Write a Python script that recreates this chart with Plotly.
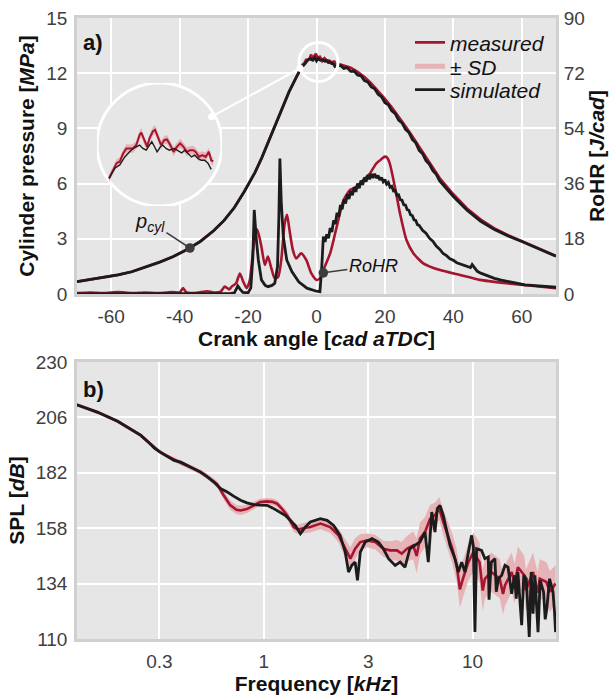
import plotly.graph_objects as go

# ---------------- panel a) data ----------------
theta_p_meas = [-70, -66, -62, -58, -54, -50, -46, -42, -38, -34, -30, -27, -24, -21, -18, -16, -14, -12, -10, -8, -6,
                -4.8, -4.37, -4.04, -3.71, -3.39, -3.06, -2.73, -2.40, -2.07, -1.74, -1.57, -1.24, -0.98, -0.75, -0.42,
                -0.19, 0.08, 0.41, 0.74, 1.0, 1.33, 1.66, 1.99, 2.32, 2.65, 2.98, 3.31, 3.64, 3.87, 4.2, 4.53, 4.86,
                5.19, 5.42, 5.62,
                6.5, 8, 10, 12, 14, 16, 18, 20, 22, 24, 26, 28, 30, 33, 36, 40, 44, 48, 52, 56, 60, 65, 70]
p_meas = [0.67, 0.78, 0.90, 1.04, 1.21, 1.45, 1.72, 2.02, 2.40, 2.85, 3.45, 4.0, 4.7, 5.6, 6.6, 7.4, 8.3, 9.3, 10.2, 11.0, 11.75,
          12.2, 12.35, 12.47, 12.5, 12.64, 12.73, 12.73, 12.73, 12.79, 12.97, 13.01, 12.85, 12.76, 12.91, 13.03,
          13.06, 12.94, 12.79, 12.88, 12.89, 12.79, 12.67, 12.76, 12.82, 12.76, 12.67, 12.7, 12.7, 12.67, 12.58, 12.61, 12.58,
          12.67, 12.52, 12.5,
          12.5, 12.42, 12.3, 12.08, 11.8, 11.45, 11.05, 10.6, 10.15, 9.65, 9.12, 8.58, 8.0, 7.15, 6.3, 5.42, 4.65, 4.05, 3.57, 3.2, 2.88, 2.47, 2.07]
p_meas_sd = [0.04, 0.04, 0.04, 0.04, 0.04, 0.04, 0.05, 0.05, 0.05, 0.05, 0.05, 0.06, 0.06, 0.06, 0.06, 0.06, 0.07, 0.07, 0.07, 0.07, 0.07,
             0.07, 0.08, 0.07, 0.08, 0.07, 0.08, 0.07, 0.08, 0.07, 0.08, 0.08, 0.07, 0.08, 0.07, 0.08,
             0.08, 0.07, 0.08, 0.07, 0.08, 0.07, 0.08, 0.07, 0.08, 0.07, 0.08, 0.07, 0.08, 0.07, 0.08, 0.07, 0.08,
             0.07, 0.08, 0.07,
             0.08, 0.08, 0.07, 0.07, 0.07, 0.07, 0.07, 0.07, 0.07, 0.07, 0.07, 0.06, 0.06, 0.06, 0.06, 0.05, 0.05, 0.05, 0.05, 0.05, 0.04, 0.04, 0.04]

theta_p_sim = [-70, -66, -62, -58, -54, -50, -46, -42, -38, -34, -30, -27, -24, -21, -18, -16, -14, -12, -10, -8, -6,
               -4.8, -4.21, -3.71, -3.22, -2.73, -2.40, -2.07, -1.74, -1.41, -1.08, -0.75, -0.52, -0.25, 0.01, 0.34,
               0.57, 0.90, 1.24, 1.73, 2.06, 2.46, 2.79, 3.12, 3.45, 3.78, 4.11, 4.44, 4.77, 5.10, 5.42,
               6.5, 7, 8, 9, 10, 11, 12, 13, 14, 15, 16, 17, 18, 19, 20, 21, 22, 23, 24, 25, 26, 27, 28, 29, 30,
               31, 32, 33, 34, 35, 36, 40, 44, 48, 52, 56, 60, 65, 70]
p_sim = [0.67, 0.78, 0.90, 1.04, 1.21, 1.45, 1.72, 2.02, 2.40, 2.85, 3.45, 4.0, 4.7, 5.6, 6.6, 7.4, 8.3, 9.3, 10.2, 11.0, 11.75,
         12.2, 12.38, 12.44, 12.58, 12.67, 12.73, 12.76, 12.79, 12.73, 12.70, 12.79, 12.85, 12.76, 12.67, 12.76,
         12.79, 12.73, 12.70, 12.73, 12.70, 12.65, 12.70, 12.64, 12.58, 12.61, 12.55, 12.52, 12.52, 12.47, 12.36,
         12.4, 12.42, 12.26, 12.3, 12.1, 12.12, 11.9, 11.86, 11.6, 11.52, 11.25, 11.15, 10.85, 10.72, 10.4, 10.28,
         9.95, 9.8, 9.45, 9.3, 8.95, 8.78, 8.4, 8.22, 7.8,
         7.63, 7.25, 7.05, 6.7, 6.5, 6.15, 5.3, 4.55, 3.95, 3.5, 3.15, 2.85, 2.45, 2.05]

theta_r_meas = [-70, -66, -62, -58, -54, -50, -46, -42, -40, -39, -38, -35, -32, -30, -28, -26.8, -25.5, -24.8, -23.5,
                -22.4, -21.4, -20.4, -19.5, -19.0, -18.0, -17.3, -16.1, -15.1, -14.2, -13.2, -12.2, -11.2, -10.3, -9.3,
                -8.6, -7.9, -6.9, -5.9, -4.5, -3.0, -1.5, 0.0, 1.0, 2.0, 4.0, 5.9, 7.9, 9.8, 11.7, 13.7, 15.6, 17.5,
                19.0, 20.0, 20.6, 21.4, 22.9, 24.4, 26.3, 28.3, 31.2, 36.1, 42.0, 47.8, 55.6, 63.5, 70]
rohr_meas = [0.3, 0.5, 0.3, 0.6, 0.3, 0.5, 0.3, 0.6, 0.5, 1.9, 0.5, 0.4, 0.9, 0.5, 0.8, 2.4, 1.5, 2.4, 3.5,
             6.7, 4.0, 1.9, 4.5, 8.9, 19.2, 21.0, 15.4, 9.5, 12.2, 8.4, 5.1, 5.6, 11.1, 23.0,
             25.8, 20.9, 14.3, 11.6, 13.3, 11.1, 6.7, 4.6, 5.1, 7.8, 13.3, 21.9, 30.6, 33.9, 35.0, 37.2, 39.3, 42.6,
             44.0, 44.8, 44.5, 42.6, 35.0, 26.3, 17.6, 13.3, 10.0, 7.8, 6.2, 4.6, 3.5, 2.6, 1.9]

theta_r_sim = [-70, -40, -25, -24, -23, -22.3, -21.5, -20, -19.2, -18.6, -18.2, -17.6, -17, -16.1, -15, -14.2, -13, -12.2,
               -11.4, -11, -10.7, -10.3, -9.7, -8.7, -7.2, -5.2, -2.8, 0, 1.0, 1.5,
               2.0, 2.5, 3.0, 3.5, 4.0, 4.5, 5.0, 5.5, 6.0, 6.5, 7.0, 7.5, 8.0, 8.5, 9.0, 9.5, 10.0, 10.5, 11.0, 11.5,
               12.0, 12.5, 13.0, 13.5, 14.0, 14.5, 15.0, 15.5, 16.0, 16.5, 17.0, 17.5, 18.0, 18.5, 19.0, 19.5, 20.0,
               20.5, 21.0, 21.5, 22.0, 22.5, 23.0, 23.5, 24.0, 24.5, 25.0, 25.5, 26.0, 26.5, 27.0, 27.5, 28.0, 28.5,
               29.0, 29.5, 30.0, 31, 32, 33, 34, 35, 36, 37, 38, 39, 40, 41, 42, 43, 44, 45, 45.5, 46, 47, 48, 50, 52,
               54, 56, 58, 61, 64, 67, 70]
rohr_sim = [0.0, 0.0, 0.2, 0.4, 2.6, 1.5, 0.5, 0.4, 2.0, 12.0, 27.4, 18.0, 11.1, 4.6, 2.8, 2.4, 2.8, 3.5,
            8.9, 25.0, 44.2, 30.0, 18.7, 11.1, 7.3, 4.0, 1.9, 0.9, 0.75, 8.0,
            18.7, 17.0, 19.5, 18.2, 21.5, 20.2, 24.0, 22.8, 26.5, 25.2, 29.0, 27.6, 30.8, 29.5, 32.5, 31.0, 33.6, 32.2, 34.8, 33.3,
            36.0, 34.5, 37.0, 35.6, 38.0, 36.6, 38.8, 37.4, 39.2, 37.8, 39.2, 37.8, 38.6, 37.2, 38.0, 36.6, 37.3,
            35.8, 36.4, 34.8, 35.1, 33.6, 33.7, 32.2, 32.3, 30.7, 30.6, 29.1, 29.0, 27.5, 27.3, 25.8, 25.6, 24.2,
            24.0, 22.6, 22.4, 20.8, 19.8, 18.2, 17.2, 15.6, 14.6, 13.2, 12.5, 11.5, 11.0, 10.2, 9.8, 9.2, 8.9, 8.6, 9.6, 8.8, 7.4, 6.8, 5.9, 5.1,
            4.5, 4.0, 3.5, 3.0, 2.7, 2.4, 2.2]

# ---------------- panel b) data ----------------
freq_meas = [0.127, 0.16, 0.1995, 0.2576, 0.285, 0.315, 0.34, 0.3715, 0.40, 0.4305, 0.46, 0.498, 0.54, 0.577,
             0.598, 0.64, 0.69, 0.74, 0.774, 0.83, 0.896, 0.96, 1.037, 1.1, 1.159, 1.22, 1.293, 1.39, 1.45, 1.497,
             1.58, 1.67, 1.87, 2.08, 2.28, 2.456, 2.6, 2.74, 2.9, 3.12, 3.42, 3.74, 4.03, 4.34, 4.58, 4.85, 5.2,
             5.4, 5.6, 5.92, 6.26, 6.61, 6.93, 7.24, 7.52, 8.0, 8.4, 8.7, 9.0, 9.55, 10.1, 10.8, 11.2, 11.46, 12.3,
             13.5, 14.0, 14.3, 15.4, 15.9, 16.5, 17.7, 18.0, 19.5, 20.5, 21.0, 22.6, 23.5, 25.0]
spl_meas = [211.5, 208.3, 204.3, 198.2, 194.7, 191.3, 189.5, 187.6, 186.3, 185.0, 183.8, 182.3, 180.2, 178.0,
            177.0, 172.5, 168.0, 166.0, 165.7, 166.3, 167.9, 169.3, 169.6, 169.4, 168.6, 166.5, 163.6, 158.5, 157.5, 157.6,
            158.2, 158.5, 160.0, 158.5, 154.9, 149.1, 144.8, 149.1, 152.0, 152.7, 152.0, 149.1, 148.4, 148.4, 147.0, 149.1, 150.6,
            146.0, 153.5, 156.3, 162.1, 163.6, 166.5, 160.7, 156.3, 149.1, 141.9, 131.5, 136.1, 143.3, 147.6, 143.3, 131.0, 136.1, 139.0,
            136.1, 129.5, 133.2, 139.0, 134.0, 141.1, 137.6, 131.0, 139.0, 130.0, 136.1, 134.7, 130.5, 134.0]
spl_meas_sd = [0.8, 0.8, 0.8, 0.8, 0.9, 0.9, 0.9, 1.0, 1.0, 1.0, 1.0, 1.1, 1.2, 1.3,
               1.5, 1.8, 2.0, 2.0, 2.0, 1.8, 1.6, 1.5, 1.5, 1.5, 1.5, 1.6, 1.8, 2.0, 2.0, 2.2,
               2.3, 2.4, 2.5, 2.6, 3.0, 4.0, 5.0, 4.5, 3.5, 3.0, 3.2, 3.5, 4.0, 4.5, 5.0, 5.5, 6.0,
               7.5, 7.0, 6.5, 6.0, 5.5, 5.0, 5.5, 6.0, 6.5, 7.0, 8.0, 8.0, 8.0, 8.5, 8.5, 9.0, 8.5, 8.5,
               8.5, 9.0, 9.0, 8.5, 8.5, 9.0, 8.5, 9.0, 8.5, 9.0, 8.5, 8.5, 9.0, 8.0]

freq_sim = [0.127, 0.16, 0.1995, 0.2576, 0.285, 0.30, 0.315, 0.34, 0.3715, 0.40, 0.4305, 0.46, 0.498, 0.54, 0.577,
            0.62, 0.668, 0.72, 0.774, 0.83, 0.896, 0.96, 1.037, 1.1, 1.2, 1.27, 1.34, 1.42, 1.497, 1.58, 1.67, 1.866,
            2.01, 2.16, 2.32, 2.456, 2.547, 2.64, 2.74, 2.81, 2.9, 3.06, 3.3, 3.54, 3.74, 3.96, 4.26, 4.5, 4.75, 5.01,
            5.3, 5.6, 5.92, 6.14, 6.38, 6.61, 6.78, 6.98, 7.24, 7.52, 7.8, 8.24, 8.55, 8.87, 9.2, 9.55, 9.9, 10.1,
            10.27, 10.46, 11.05, 11.46, 11.9, 12.0, 12.3, 12.8, 13.0, 13.3, 13.8, 14.3, 14.8, 15.4, 15.9, 16.2, 16.5,
            17.2, 17.6, 18.1, 18.7, 19.1, 19.5, 19.9, 20.6, 21.1, 21.9, 22.3, 22.7, 23.4, 24.3, 24.7, 25.0]
spl_sim = [211.5, 208.2, 204.3, 198.2, 194.6, 192.6, 191.3, 189.5, 187.4, 186.6, 185.2, 184.0, 182.3, 180.0, 178.0,
           175.2, 173.7, 171.8, 170.1, 169.0, 168.2, 168.0, 167.9, 166.8, 165.0, 163.5, 161.4, 159.0, 155.6, 158.5, 160.7, 162.1,
           161.4, 159.2, 154.9, 147.6, 139.0, 141.9, 143.3, 135.4, 147.6, 152.0, 153.5, 152.0, 149.1, 144.8, 141.9, 143.3, 141.1, 149.1,
           150.6, 152.0, 156.3, 143.3, 165.0, 156.3, 166.5, 167.9, 163.6, 156.3, 150.6, 144.8, 139.0, 143.3, 139.0, 147.6, 154.9, 150.0,
           113.0, 149.1, 148.4, 144.8, 145.5, 127.0, 143.3, 144.8, 130.5, 136.1, 137.6, 141.9, 141.1, 129.6, 137.6, 127.5, 139.0,
           116.0, 137.6, 136.1, 110.9, 139.0, 121.0, 137.6, 113.0, 135.4, 130.4, 118.5, 123.1, 136.1, 130.4, 122.0, 113.0]

# ---------------- axes / tick definitions ----------------
theta_range = [-70, 70]
theta_ticks = [-60, -40, -20, 0, 20, 40, 60]
theta_ticktext = ["-60", "-40", "-20", "0", "20", "40", "60"]
p_range = [0, 15]
p_ticks = [0, 3, 6, 9, 12, 15]
rohr_range = [0, 90]
rohr_ticks = [0, 18, 36, 54, 72, 90]
f_range_log = [-0.895, 1.40]
f_tickvals = [10 ** -0.5, 1, 10 ** 0.5, 10]
f_ticktext = ["0.3", "1", "3", "10"]
spl_range = [110, 230]
spl_ticks = [110, 134, 158, 182, 206, 230]
inset_theta = [-6.0, 6.5]
inset_p = [11.71, 13.89]

# ---------------- style ----------------
RED = "#a5152f"
PINK = "#e6b3b6"
BLACK = "#1c1c1c"
BG = "#e6e6e6"
FRAME = "#d0d0d0"
FONT = "Liberation Sans, Arial, Helvetica, sans-serif"
TICKFONT = dict(family=FONT, size=19, color="#404040")
TITLEFONT = dict(family=FONT, size=21, color="#111111")
LEGFONT = dict(family=FONT, size=21, color="#111111")

W, H = 616, 698
ML, MR, MT, MB = 77, 60, 18, 59
PW, PH = W - ML - MR, H - MT - MB


def px(x):
    return (x - ML) / PW


def py(y):
    return (H - MB - y) / PH


top_dom = [py(294), 1.0]
bot_dom = [0.0, py(362)]

fig = go.Figure()

# ---- panel a: pressure SD band ----
p_up = [p + s for p, s in zip(p_meas, p_meas_sd)]
p_lo = [p - s for p, s in zip(p_meas, p_meas_sd)]
fig.add_trace(go.Scatter(x=theta_p_meas, y=p_up, mode="lines", line=dict(width=0, color=PINK),
                         showlegend=False, hoverinfo="skip", xaxis="x", yaxis="y"))
fig.add_trace(go.Scatter(x=theta_p_meas, y=p_lo, mode="lines", line=dict(width=0, color=PINK), fill="tonexty",
                         fillcolor=PINK, showlegend=False, hoverinfo="skip", xaxis="x", yaxis="y"))
# ---- RoHR ----
fig.add_trace(go.Scatter(x=theta_r_meas, y=rohr_meas, mode="lines", line=dict(color=RED, width=2.6, shape="spline", smoothing=0.6),
                         showlegend=False, xaxis="x", yaxis="y2"))
fig.add_trace(go.Scatter(x=theta_r_sim, y=rohr_sim, mode="lines", line=dict(color=BLACK, width=2.8),
                         showlegend=False, xaxis="x", yaxis="y2"))
# ---- pressure ----
fig.add_trace(go.Scatter(x=theta_p_meas, y=p_meas, mode="lines", line=dict(color=RED, width=2.6),
                         name="<i>measured</i>", legend="legend", xaxis="x", yaxis="y"))
fig.add_trace(go.Scatter(x=[None], y=[None], mode="lines", line=dict(color=PINK, width=5),
                         name="<i>± SD</i>", legend="legend2", xaxis="x", yaxis="y"))
fig.add_trace(go.Scatter(x=theta_p_sim, y=p_sim, mode="lines", line=dict(color=BLACK, width=2.8),
                         name="<i>simulated</i>", legend="legend3", xaxis="x", yaxis="y"))

# ---- inset (zoomed peak) ----
lo_t, hi_t = -4.85, 5.65
im = [i for i, t in enumerate(theta_p_meas) if lo_t <= t <= hi_t]
isim = [i for i, t in enumerate(theta_p_sim) if lo_t <= t <= hi_t]
fig.add_trace(go.Scatter(x=[theta_p_meas[i] for i in im], y=[p_up[i] for i in im], mode="lines",
                         line=dict(width=0, color=PINK), showlegend=False, hoverinfo="skip", xaxis="x3", yaxis="y4"))
fig.add_trace(go.Scatter(x=[theta_p_meas[i] for i in im], y=[p_lo[i] for i in im], mode="lines",
                         line=dict(width=0, color=PINK), fill="tonexty", fillcolor=PINK,
                         showlegend=False, hoverinfo="skip", xaxis="x3", yaxis="y4"))
fig.add_trace(go.Scatter(x=[theta_p_meas[i] for i in im], y=[p_meas[i] for i in im], mode="lines",
                         line=dict(color=RED, width=2), showlegend=False, xaxis="x3", yaxis="y4"))
fig.add_trace(go.Scatter(x=[theta_p_sim[i] for i in isim], y=[p_sim[i] for i in isim], mode="lines",
                         line=dict(color=BLACK, width=1.4), showlegend=False, xaxis="x3", yaxis="y4"))

# ---- panel b ----
s_up = [v + s for v, s in zip(spl_meas, spl_meas_sd)]
s_lo = [v - s for v, s in zip(spl_meas, spl_meas_sd)]
fig.add_trace(go.Scatter(x=freq_meas, y=s_up, mode="lines", line=dict(width=0, color=PINK),
                         showlegend=False, hoverinfo="skip", xaxis="x2", yaxis="y3"))
fig.add_trace(go.Scatter(x=freq_meas, y=s_lo, mode="lines", line=dict(width=0, color=PINK), fill="tonexty",
                         fillcolor=PINK, showlegend=False, hoverinfo="skip", xaxis="x2", yaxis="y3"))
fig.add_trace(go.Scatter(x=freq_meas, y=spl_meas, mode="lines", line=dict(color=RED, width=2.6),
                         showlegend=False, xaxis="x2", yaxis="y3"))
fig.add_trace(go.Scatter(x=freq_sim, y=spl_sim, mode="lines", line=dict(color=BLACK, width=2.8),
                         showlegend=False, xaxis="x2", yaxis="y3"))

axis_common = dict(showline=True, linecolor=FRAME, linewidth=2.5, mirror=True, showgrid=True,
                   gridcolor="white", gridwidth=2, zeroline=False, ticks="outside", ticklen=3,
                   tickcolor="rgba(0,0,0,0)", tickfont=TICKFONT, automargin=False)


def leg(ypix):
    return dict(x=px(410), y=py(ypix), xanchor="left", yanchor="middle", bgcolor="rgba(0,0,0,0)",
                font=LEGFONT, borderwidth=0)


fig.update_layout(
    width=W, height=H,
    margin=dict(l=ML, r=MR, t=MT, b=MB, autoexpand=False),
    paper_bgcolor="white",
    plot_bgcolor="rgba(0,0,0,0)",
    font=dict(family=FONT),
    showlegend=True,
    legend=leg(42.7), legend2=leg(66.7), legend3=leg(90.0),
    xaxis=dict(domain=[0, 1], anchor="y", range=theta_range, tickvals=theta_ticks, ticktext=theta_ticktext,
               title=dict(text="<b>Crank angle [<i>cad aTDC</i>]</b>", font=TITLEFONT, standoff=4), **axis_common),
    yaxis=dict(domain=top_dom, anchor="x", range=p_range, tickvals=p_ticks,
               title=dict(text="<b>Cylinder pressure [<i>MPa</i>]</b>", font=TITLEFONT, standoff=6), **axis_common),
    yaxis2=dict(overlaying="y", side="right", anchor="x", range=rohr_range, tickvals=rohr_ticks, showgrid=False,
                zeroline=False, showline=False, ticks="outside", ticklen=3, tickcolor="rgba(0,0,0,0)",
                tickfont=TICKFONT, automargin=False,
                title=dict(text="<b>RoHR [<i>J/cad</i>]</b>", font=TITLEFONT, standoff=4)),
    xaxis2=dict(domain=[0, 1], anchor="y3", type="log", range=f_range_log, tickvals=f_tickvals, ticktext=f_ticktext,
                title=dict(text="<b>Frequency [<i>kHz</i>]</b>", font=TITLEFONT, standoff=4), **axis_common),
    yaxis3=dict(domain=bot_dom, anchor="x2", range=spl_range, tickvals=spl_ticks,
                title=dict(text="<b>SPL [<i>dB</i>]</b>", font=TITLEFONT, standoff=6), **axis_common),
    xaxis3=dict(domain=[px(97), px(222)], anchor="y4", range=inset_theta, visible=False),
    yaxis4=dict(domain=[py(206), py(83)], anchor="x3", range=inset_p, visible=False),
)

shapes = [
    # panel backgrounds
    dict(type="rect", xref="x domain", yref="y domain", x0=0, x1=1, y0=0, y1=1, fillcolor=BG,
         line=dict(width=0), layer="below"),
    dict(type="rect", xref="x2 domain", yref="y3 domain", x0=0, x1=1, y0=0, y1=1, fillcolor=BG,
         line=dict(width=0), layer="below"),
    # inset magnifier circle
    dict(type="circle", xref="x3", yref="y4", x0=inset_theta[0], x1=inset_theta[1], y0=inset_p[0], y1=inset_p[1],
         fillcolor=BG, line=dict(color="white", width=3), layer="below"),
    # small circle at the peak
    dict(type="circle", xref="paper", yref="paper", x0=px(299), x1=px(338), y0=py(81.5), y1=py(42.5),
         line=dict(color="white", width=3), layer="above"),
    # connector
    dict(type="line", xref="paper", yref="paper", x0=px(300), y0=py(68.3), x1=px(211.7), y1=py(116.7),
         line=dict(color="white", width=2), layer="above"),
    dict(type="circle", xref="paper", yref="paper", x0=px(296.5), x1=px(303.5), y0=py(71.8), y1=py(64.8),
         fillcolor="white", line=dict(width=0), layer="above"),
    dict(type="circle", xref="paper", yref="paper", x0=px(208.2), x1=px(215.2), y0=py(120.2), y1=py(113.2),
         fillcolor="white", line=dict(width=0), layer="above"),
]
fig.update_layout(shapes=shapes)

annotations = [
    dict(text="<b>a)</b>", xref="x domain", yref="y domain", x=0.008, y=0.91, xanchor="left", yanchor="middle",
         showarrow=False, font=dict(family=FONT, size=22, color="#111111")),
    dict(text="<b>b)</b>", xref="x2 domain", yref="y3 domain", x=0.008, y=0.90, xanchor="left", yanchor="middle",
         showarrow=False, font=dict(family=FONT, size=22, color="#111111")),
    dict(text="<i>p</i><sub><i>cyl</i></sub>", xref="x", yref="y", x=-37, y=2.5, ax=-40, ay=-26,
         showarrow=True, arrowhead=6, arrowsize=1.6, arrowwidth=1.5, arrowcolor="#3c3c3c",
         font=dict(family=FONT, size=20, color="#111111")),
    dict(text="<i>RoHR</i>", xref="x", yref="y2", x=2.0, y=6.9, ax=50, ay=-7,
         showarrow=True, arrowhead=6, arrowsize=1.6, arrowwidth=1.5, arrowcolor="#3c3c3c",
         font=dict(family=FONT, size=18, color="#111111")),
]
fig.update_layout(annotations=annotations)

fig.write_html("out.html", config={"displayModeBar": False},
               post_script="document.body.style.margin='0';document.body.style.padding='0';")
